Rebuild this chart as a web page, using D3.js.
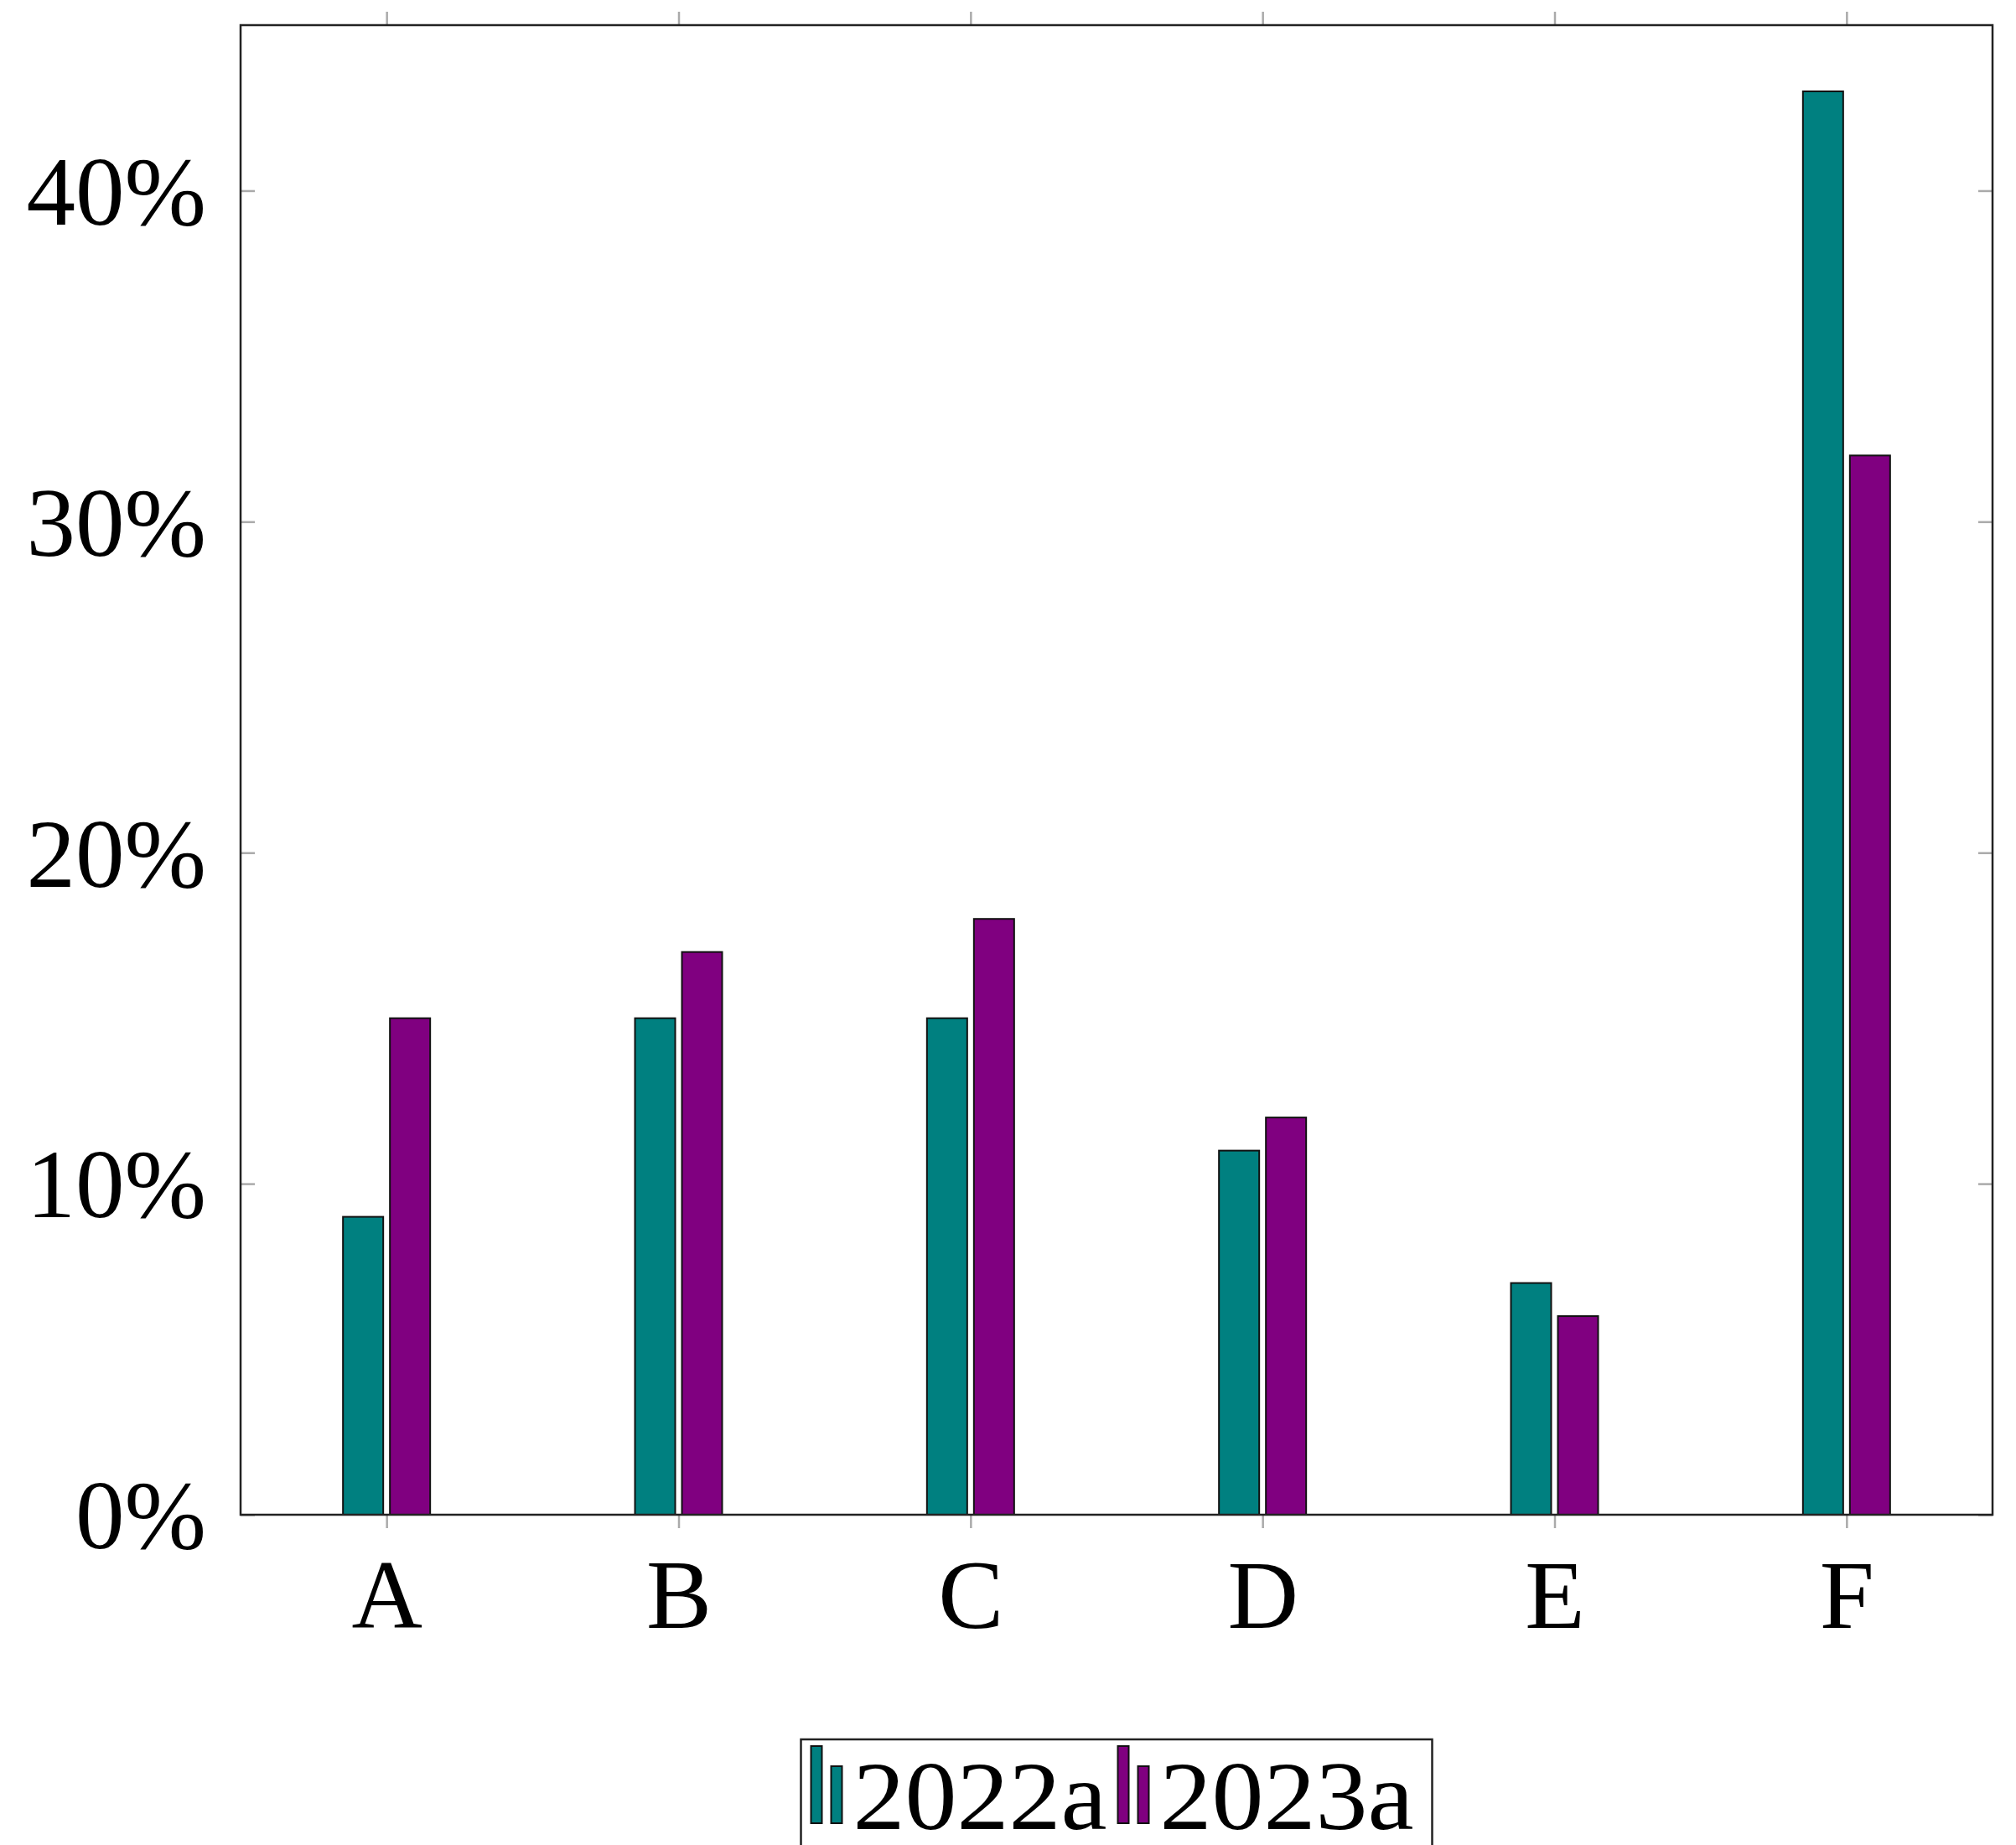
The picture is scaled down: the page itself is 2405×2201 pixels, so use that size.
<!DOCTYPE html>
<html lang="en">
<head>
    <meta charset="UTF-8">
    <title>Bar chart</title>
    <script type="text/javascript" src="https://cdn.jsdelivr.net/npm/d3@7/dist/d3.min.js"></script>
    <style>
        body { margin: 0; background: #fff; }
        text { font-family: "Liberation Serif", serif; }
    </style>
</head>
<body>

<script>
    // categories and values (percent)
    const categories = ["A", "B", "C", "D", "E", "F"];
    const seriesNames = ["2022a", "2023a"];
    const values2022 = [9, 15, 15, 11, 7, 43];
    const values2023 = [15, 17, 18, 12, 6, 32];
    const yTicks = [0, 10, 20, 30, 40];
    const colors = ["#008080", "#800080"];

    var w = 2405,
        h = 2201;
    // plot frame (note: "top" is taken by window.top, so use own names)
    var plotLeft = 287, plotRight = 2377, plotTop = 30, plotBottom = 1807;
    var fontSize = 117;

    var svg = d3.select("body")
        .append("svg")
        .attr("width", w)
        .attr("height", h);

    // x: category index, half a step of room on each side
    var xScale = d3.scaleLinear()
        .domain([-0.5, categories.length - 0.5])
        .range([plotLeft, plotRight]);

    var yScale = d3.scaleLinear()
        .domain([0, 45])
        .range([plotBottom, plotTop]);

    // bars
    var series = [values2022, values2023];
    var barW = 48;
    var offsets = [-52, 4];

    series.forEach(function (vals, s) {
        svg.append("g")
            .selectAll("rect")
            .data(vals)
            .enter()
            .append("rect")
            .attr("x", function (d, i) { return xScale(i) + offsets[s]; })
            .attr("y", function (d) { return yScale(d); })
            .attr("width", barW)
            .attr("height", function (d) { return yScale(0) - yScale(d); })
            .attr("fill", colors[s])
            .attr("stroke", "#111")
            .attr("stroke-width", 2);
    });

    var idx = d3.range(categories.length);

    // axes (ticks only come from d3, frame drawn separately)
    var gBottom = svg.append("g")
        .attr("transform", "translate(0," + plotBottom + ")")
        .call(d3.axisBottom(xScale).tickValues(idx)
            .tickFormat(function (i) { return categories[i]; })
            .tickSizeInner(16).tickSizeOuter(0));
    gBottom.selectAll("text")
        .attr("y", 135).attr("dy", 0);

    var gTop = svg.append("g")
        .attr("transform", "translate(0," + plotTop + ")")
        .call(d3.axisTop(xScale).tickValues(idx).tickFormat("")
            .tickSizeInner(16).tickSizeOuter(0));

    var gLeft = svg.append("g")
        .attr("transform", "translate(" + plotLeft + ",0)")
        .call(d3.axisLeft(yScale).tickValues(yTicks)
            .tickFormat(function (d) { return d + "%"; })
            .tickSizeInner(-17).tickSizeOuter(0).tickPadding(41));
    gLeft.selectAll("text").attr("dy", "0.34em");

    var gRight = svg.append("g")
        .attr("transform", "translate(" + plotRight + ",0)")
        .call(d3.axisRight(yScale).tickValues(yTicks).tickFormat("")
            .tickSizeInner(-17).tickSizeOuter(0));

    [gBottom, gTop, gLeft, gRight].forEach(function (g) {
        g.select(".domain").remove();
        g.selectAll(".tick line")
            .attr("stroke", "#aaa")
            .attr("stroke-width", 2.5);
        g.selectAll("text")
            .attr("font-family", "Liberation Serif, serif")
            .attr("font-size", fontSize + "px")
            .attr("fill", "#000");
    });

    // frame
    svg.append("rect")
        .attr("x", plotLeft).attr("y", plotTop)
        .attr("width", plotRight - plotLeft).attr("height", plotBottom - plotTop)
        .attr("fill", "none")
        .attr("stroke", "#222")
        .attr("stroke-width", 2.5);

    // legend
    var legend = svg.append("g");
    var legBox = legend.append("rect")
        .attr("fill", "#fff")
        .attr("stroke", "#222")
        .attr("stroke-width", 2.5);

    var entries = legend.selectAll("g.entry")
        .data(seriesNames)
        .enter()
        .append("g")
        .attr("class", "entry");

    entries.append("rect")
        .attr("x", 0).attr("y", 2083)
        .attr("width", 13).attr("height", 92)
        .attr("fill", function (d, i) { return colors[i]; })
        .attr("stroke", "#111").attr("stroke-width", 2);
    entries.append("rect")
        .attr("x", 24).attr("y", 2107)
        .attr("width", 13).attr("height", 68)
        .attr("fill", function (d, i) { return colors[i]; })
        .attr("stroke", "#111").attr("stroke-width", 2);
    entries.append("text")
        .attr("x", 50).attr("y", 2182)
        .attr("font-size", fontSize + "px")
        .attr("textLength", 303)
        .attr("lengthAdjust", "spacingAndGlyphs")
        .text(function (d) { return d; });

    var pos = 12, xs = [];
    entries.each(function () {
        xs.push(pos);
        pos += 50 + 303 + 13;
    });
    var boxW = pos - 13 + 22;
    var boxX = (plotLeft + plotRight) / 2 - boxW / 2;
    entries.attr("transform", function (d, i) { return "translate(" + (boxX + xs[i]) + ",0)"; });
    legBox.attr("x", boxX).attr("y", 2075)
        .attr("width", boxW).attr("height", 180);

</script>

</body>
</html>
